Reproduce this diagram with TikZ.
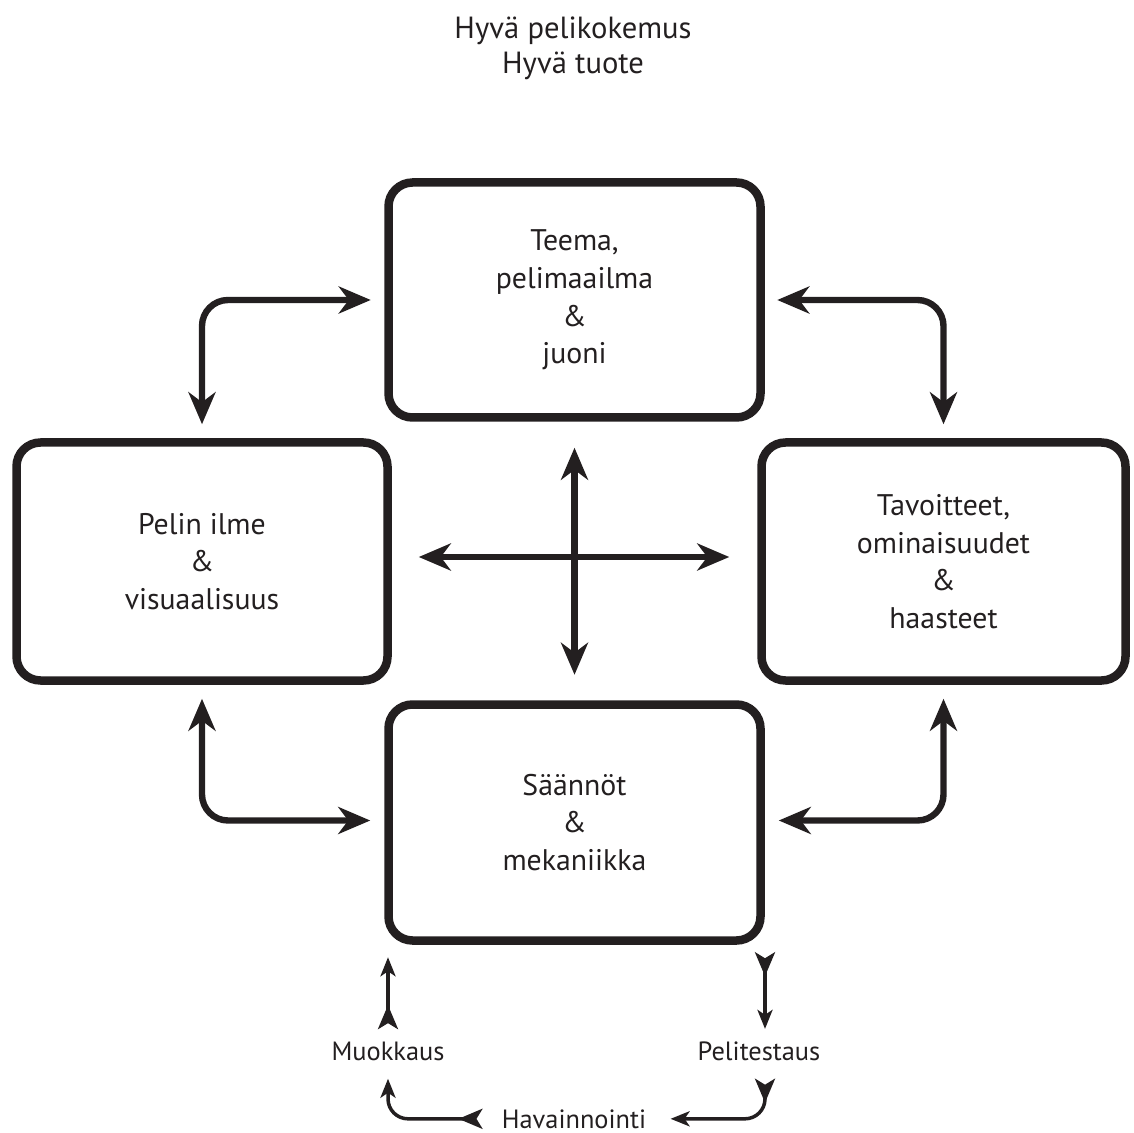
\documentclass[tikz,border=0pt]{standalone}
\usepackage{fontspec}
\setmainfont{PT Sans}
\usetikzlibrary{arrows.meta}
\definecolor{ink}{RGB}{35,31,32}
\begin{document}
\begin{tikzpicture}[x=0.5pt,y=-0.5pt,
  box/.style={draw=ink, line width=4.25pt, rounded corners=12pt, align=center,
    text=ink, font=\fontsize{14.9}{18.85}\selectfont, inner sep=0pt},
  bigarr/.style={draw=ink, line width=3.2pt, rounded corners=13pt,
    {Stealth[length=16pt,width=13.5pt,inset=5pt]}-{Stealth[length=16pt,width=13.5pt,inset=5pt]}},
  smallarr/.style={draw=ink, line width=1.75pt, rounded corners=10pt,
    {Stealth[reversed,length=12pt,width=10pt,inset=3pt]}-{Stealth[length=9.5pt,width=7.5pt,inset=2.5pt]}},
  lbl/.style={text=ink, font=\fontsize{13.2}{15}\selectfont, inner sep=0pt, anchor=base},
  titlestyle/.style={text=ink, font=\fontsize{15.3}{17.5}\selectfont, align=center, inner sep=0pt}
]
\useasboundingbox (0,0) rectangle (1134,1133);

\node[titlestyle] (title) at (573,48) {Hyvä pelikokemus\\Hyvä tuote};

\node[box, minimum width=186pt, minimum height=117.5pt] (top) at (574.5,300)
  {Teema,\\pelimaailma\\\&\\juoni};
\node[box, minimum width=185.5pt, minimum height=119pt] (left) at (202,561.5)
  {Pelin ilme\\\&\\visuaalisuus};
\node[box, minimum width=182pt, minimum height=119pt] (right) at (943.5,561.5)
  {Tavoitteet,\\ominaisuudet\\\&\\haasteet};
\node[box, minimum width=186pt, minimum height=118pt] (bottom) at (574.5,822.5)
  {Säännöt\\\&\\mekaniikka};

\draw[bigarr, shorten <=6.75pt, shorten >=7pt] (top.west) -| (left.north);
\draw[bigarr, shorten <=6.25pt, shorten >=7pt] (top.east) -| (right.north);
\draw[bigarr, shorten <=7pt, shorten >=7pt] (left.south) |- ([yshift=1pt]bottom.west);
\draw[bigarr, shorten <=7pt, shorten >=7pt] (right.south) |- ([yshift=1pt]bottom.east);
\draw[bigarr, shorten <=13pt, shorten >=12.75pt] (top.south) -- (bottom.north);
\draw[bigarr, shorten <=13.5pt, shorten >=14pt] ([yshift=2.25pt]left.east) -- ([yshift=2.25pt]right.west);

\node[lbl] (muok) at (388,1060) {Muokkaus};
\node[lbl] (peli) at (759,1060) {Pelitestaus};
\node[lbl] (hav) at (574,1128) {Havainnointi};

\draw[smallarr, shorten <=6pt, shorten >=6.25pt] (muok.north) -- (muok.north |- bottom.south);
\draw[smallarr, shorten <=9.5pt, shorten >=9pt] (hav.west) -| (muok.south);
\draw[smallarr, shorten <=3.75pt, shorten >=6pt] ([xshift=3pt]peli.north |- bottom.south) -- ([xshift=3pt]peli.north);
\draw[smallarr, shorten <=9pt, shorten >=12pt] ([xshift=3pt]peli.south) |- (hav.east);
\end{tikzpicture}
\end{document}
